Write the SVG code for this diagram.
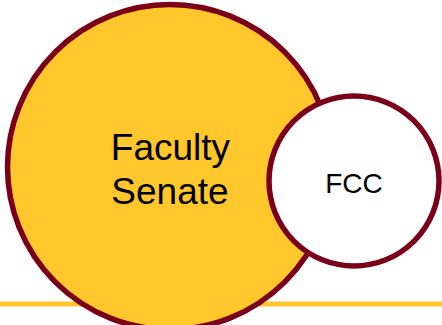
<svg xmlns="http://www.w3.org/2000/svg" width="442" height="325" viewBox="0 0 442 325">
<style>
.ring{stroke:#7A0019;stroke-width:5.5}
.lbl{font-family:"Liberation Sans",Arial,sans-serif;fill:#000;text-anchor:middle}
</style>
<rect width="442" height="325" fill="#fff"/>
<line x1="0" y1="304" x2="442" y2="304" stroke="#FFC72C" stroke-width="5"/>
<g id="connectors"/>
<g id="senate">
<circle class="ring" cx="170" cy="167" r="162.5" fill="#FFC72C"/>
<text class="lbl" x="170.5" y="159.5" font-size="37">Faculty</text>
<text class="lbl" x="170" y="203.5" font-size="37">Senate</text>
</g>
<g id="fcc">
<circle class="ring" cx="354" cy="181" r="85" fill="#fff"/>
<text class="lbl" x="354" y="192.5" font-size="28">FCC</text>
</g>
</svg>
